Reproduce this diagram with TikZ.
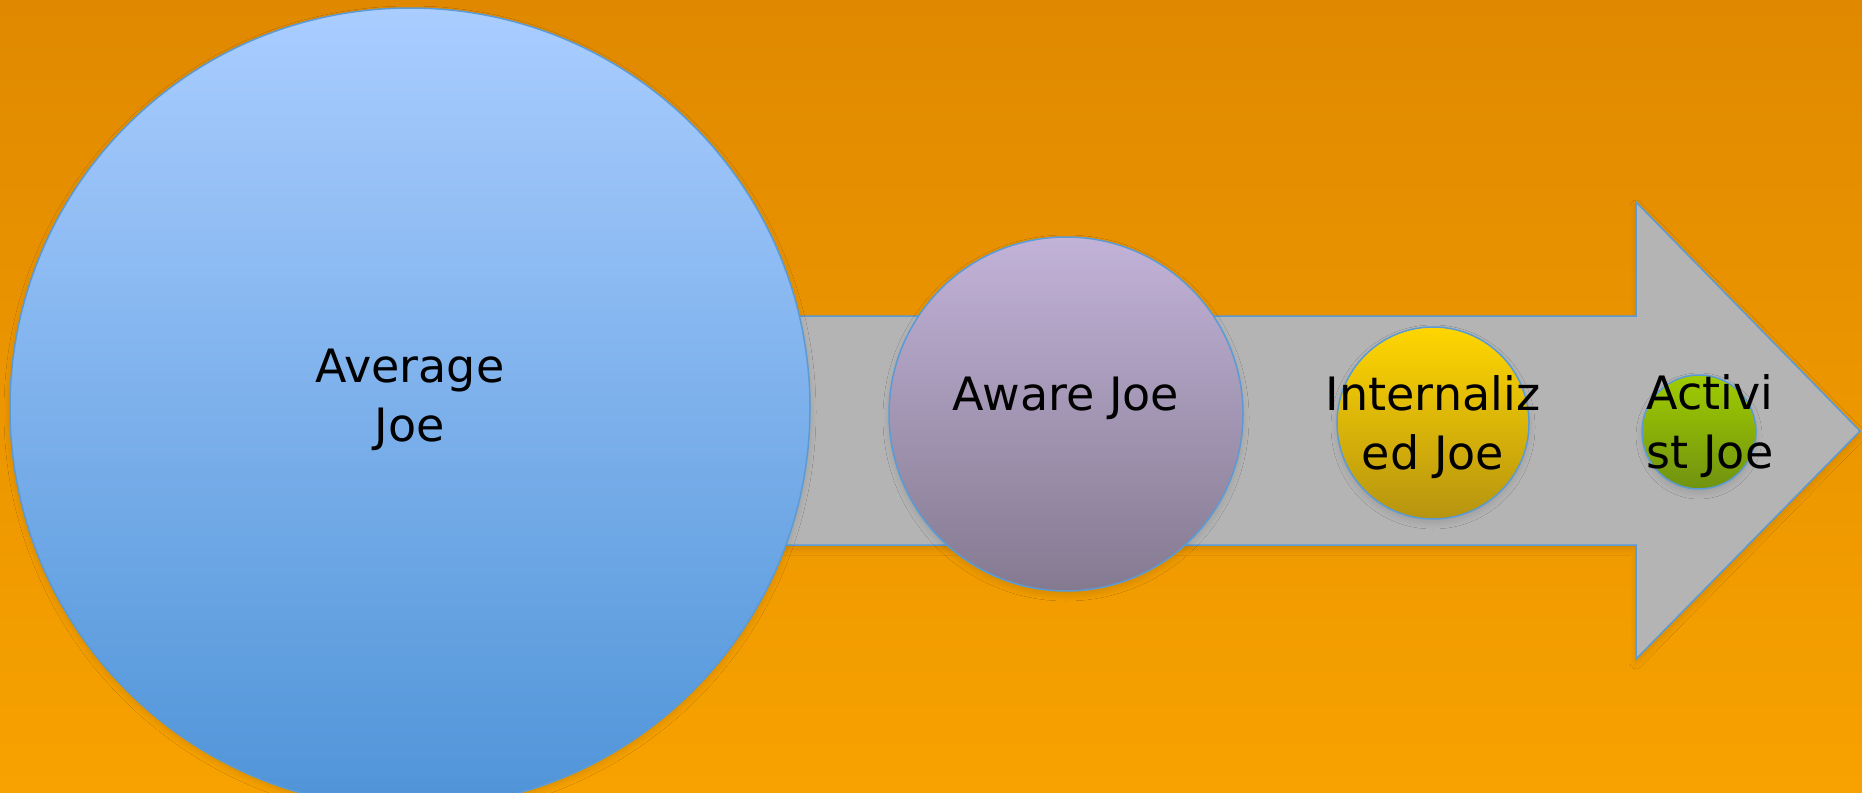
\documentclass[tikz,border=0pt]{standalone}
\usepackage{fontspec}
\setmainfont{DejaVu Sans}
\usetikzlibrary{shadows.blur}
\definecolor{bgtop}{HTML}{E08900}
\definecolor{bgbot}{HTML}{F7A200}
\definecolor{edgeblue}{HTML}{5B9BD5}
\definecolor{arrowgray}{HTML}{B4B4B4}
\definecolor{avgtop}{HTML}{AACDFF}
\definecolor{avgbot}{HTML}{4F94D8}
\definecolor{awtop}{HTML}{C2B2D8}
\definecolor{awbot}{HTML}{847A90}
\definecolor{intop}{HTML}{FFD600}
\definecolor{inbot}{HTML}{B69410}
\definecolor{actop}{HTML}{A0CC00}
\definecolor{acbot}{HTML}{709210}

\begin{document}
\begin{tikzpicture}[x=0.5pt,y=-0.5pt]%
        \useasboundingbox (0,0) rectangle (1862,792); %%
        \clip (0,0) rectangle (1862,792); %%
        \tikzset{softshadow/.style={blur shadow={shadow xshift=0pt,shadow yshift=-2pt,shadow blur radius=3pt,shadow blur steps=8,shadow opacity=12}}}
        % backdrop
        \fill[top color=bgtop,bottom color=bgbot] (0,0) rectangle (1862,792); %%
        % the block arrow behind the bubbles
        \draw[draw=edgeblue,line width=0.75pt,fill=arrowgray,softshadow]
            (650,316) -- (1636,316) -- (1636,202) -- (1860,431)
            -- (1636,659) -- (1636,545) -- (650,545) -- cycle; %%
        \begin{scope}[shape=circle,inner sep=0pt]
        \tikzstyle{every node}=[draw=edgeblue,line width=0.75pt,softshadow] %%
        \node[minimum size=400pt,top color=avgtop,bottom color=avgbot] (avg) at (410,408) {}; %%
        \node[minimum size=177pt,top color=awtop,bottom color=awbot] (aware) at (1066,414) {}; %%
        \node[minimum size=96pt,top color=intop,bottom color=inbot] (intern) at (1433,423) {}; %%
        \node[minimum size=57pt,top color=actop,bottom color=acbot] (activ) at (1699,432) {}; %%
        \end{scope}
        \begin{scope}
        \tikzstyle{every node}=[font=\fontsize{23}{29.5}\selectfont,align=center,text=black,inner sep=0pt] %%
        \node (avgtext) at ([yshift=4pt]avg.center) {Average\\Joe}; %%
        \node (awaretext) at ([yshift=8pt]aware.center) {Aware Joe}; %%
        \node (interntext) at ([yshift=-2pt]intern.center) {Internaliz\\ed Joe}; %%
        \node (activtext) at ([xshift=5.5pt,yshift=3pt]activ.center) {Activi\\st Joe}; %%
        \end{scope}
\end{tikzpicture}
\end{document}
